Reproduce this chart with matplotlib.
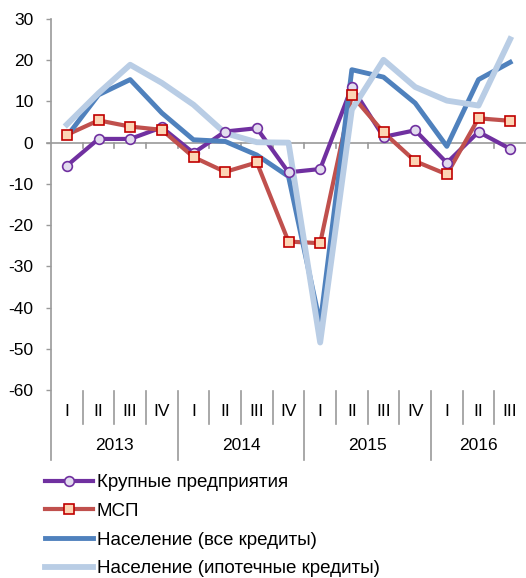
import numpy as np
import matplotlib.pyplot as plt
from matplotlib.lines import Line2D

plt.rcParams['font.family'] = ['Liberation Sans', 'DejaVu Sans']
plt.rcParams['axes.unicode_minus'] = False

years = ['2013', '2014', '2015', '2016']
quarters = ['I', 'II', 'III', 'IV', 'I', 'II', 'III', 'IV',
            'I', 'II', 'III', 'IV', 'I', 'II', 'III']

large = [-5.6, 0.9, 0.9, 3.7, -2.5, 2.7, 3.5, -7.2,
         -6.4, 13.5, 1.4, 3.0, -4.9, 2.6, -1.5]
sme = [1.9, 5.4, 3.9, 3.1, -3.5, -7.1, -4.8, -24.0,
       -24.4, 11.5, 2.5, -4.5, -7.7, 5.9, 5.3]
hh_all = [1.5, 11.6, 15.3, 7.2, 0.7, 0.3, -3.0, -8.2,
          -44.0, 17.7, 15.9, 9.6, -0.9, 15.3, 19.5]
hh_mort = [4.4, 12.0, 18.9, 14.5, 9.2, 2.3, 0.1, 0.0,
           -48.5, 8.0, 20.1, 13.5, 10.2, 9.0, 25.1]

labels = ['Крупные предприятия', 'МСП', 'Население (все кредиты)',
          'Население (ипотечные кредиты)']

grey = '#9a9a9a'
c_purple = '#7030a0'
c_red = '#c0504d'
c_blue = '#4f81bd'
c_light = '#b9cde5'

fig = plt.figure(figsize=(5.26, 5.78), dpi=100)
ax = fig.add_axes([51 / 526, 1 - 460 / 578, 475 / 526, (460 - 19) / 578])

x = np.arange(len(quarters)) + 0.5

ax.plot(x, large, color=c_purple, lw=3.0, zorder=3)
ax.plot(x, sme, color=c_red, lw=3.0, zorder=3.1)
ax.plot(x, hh_all, color=c_blue, lw=3.5, zorder=3.2)
ax.plot(x, hh_mort, color=c_light, lw=4.2, zorder=3.3)
ax.plot(x, large, ls='none', marker='o', ms=7, mfc='#e2dcee', mec=c_purple,
        mew=1.2, zorder=5)
ax.plot(x, sme, ls='none', marker='s', ms=7.5, mfc='#fcd5b5', mec='#c00000',
        mew=1.2, zorder=5.1)

ymin = -77
ax.set_xlim(0, len(quarters))
ax.set_ylim(ymin, 30)
ax.set_yticks(np.arange(-60, 31, 10))
ax.tick_params(axis='y', length=3.6, width=1, color=grey, pad=9,
               labelsize=12.5)
ax.tick_params(axis='x', length=0, labelbottom=False)
for s in ['top', 'right', 'bottom']:
    ax.spines[s].set_visible(False)
ax.spines['left'].set_color(grey)
ax.spines['left'].set_linewidth(1.2)

# zero line with small category ticks
ax.axhline(0, color=grey, lw=1.2, zorder=2)
ax.plot([-0.12, 0], [0, 0], color=grey, lw=1.2, clip_on=False, zorder=2)
for i in range(1, len(quarters)):
    ax.plot([i, i], [0, -1.3], color=grey, lw=1.2, zorder=2)

# category axis below
for i in range(1, len(quarters)):
    bottom = ymin if i % 4 == 0 else -68.3
    ax.plot([i, i], [-60.3, bottom], color=grey, lw=1.2, clip_on=False)
for xi, q in zip(x, quarters):
    ax.text(xi, -65.3, q, ha='center', va='center', fontsize=12.5)
for k, yr in enumerate(years):
    n = min(4, len(quarters) - 4 * k)
    ax.text(4 * k + n / 2, -73.6, yr, ha='center', va='center', fontsize=12.5)

handles = [
    Line2D([], [], color=c_purple, lw=3.0, marker='o', ms=7, mfc='#e2dcee',
           mec=c_purple, mew=1.2),
    Line2D([], [], color=c_red, lw=3.0, marker='s', ms=7.5, mfc='#fcd5b5',
           mec='#c00000', mew=1.2),
    Line2D([], [], color=c_blue, lw=3.5),
    Line2D([], [], color=c_light, lw=4.2),
]
fig.legend(handles, labels, loc='upper left', bbox_to_anchor=(45 / 526, 1 - 474 / 578),
           frameon=False, fontsize=13.5, handlelength=2.55, handletextpad=0.2,
           labelspacing=0.62, borderpad=0, borderaxespad=0)

fig.savefig('out.png', dpi=100)
